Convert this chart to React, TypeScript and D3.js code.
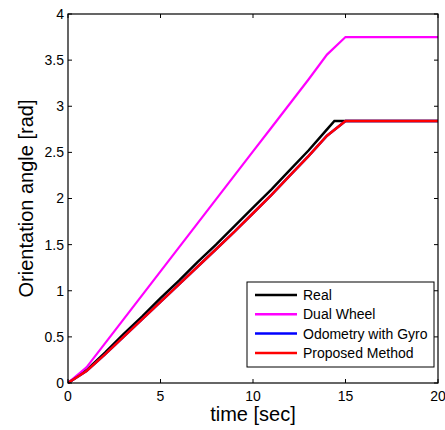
import React from "react";
import * as d3 from "d3";

const timeReal = [0, 1, 2, 3, 4, 5, 6, 7, 8, 9, 10, 11, 12, 13, 14, 14.4, 20];
const angleReal = [0, 0.14, 0.33, 0.53, 0.72, 0.92, 1.11, 1.31, 1.5, 1.7, 1.9, 2.1, 2.31, 2.52, 2.75, 2.84, 2.84];

const timeDual = [0, 1, 2, 3, 4, 5, 6, 7, 8, 9, 10, 11, 12, 13, 14, 15, 20];
const angleDual = [0, 0.17, 0.43, 0.69, 0.95, 1.21, 1.47, 1.73, 1.99, 2.25, 2.51, 2.77, 3.03, 3.29, 3.56, 3.75, 3.75];

const timeGyro = [0, 1, 2, 3, 4, 5, 6, 7, 8, 9, 10, 11, 12, 13, 14, 15, 20];
const angleGyro = [0, 0.13, 0.31, 0.5, 0.69, 0.88, 1.07, 1.26, 1.45, 1.64, 1.84, 2.04, 2.25, 2.46, 2.68, 2.84, 2.84];

const timeProposed = [0, 1, 2, 3, 4, 5, 6, 7, 8, 9, 10, 11, 12, 13, 14, 15, 20];
const angleProposed = [0, 0.13, 0.31, 0.5, 0.69, 0.88, 1.07, 1.26, 1.45, 1.64, 1.84, 2.04, 2.25, 2.46, 2.68, 2.84, 2.84];

const seriesNames = ["Real", "Dual Wheel", "Odometry with Gyro", "Proposed Method"];
const seriesColors = ["#000000", "#ff00ff", "#0000ff", "#ff0000"];
const xTicks = [0, 5, 10, 15, 20];
const yTicks = [0, 0.5, 1, 1.5, 2, 2.5, 3, 3.5, 4];

const FONT = "Helvetica, Arial, 'Liberation Sans', sans-serif";

export default function App() {
  const W = 445, H = 430;
  const left = 68, right = 438, top = 14, bottom = 383;
  const x = d3.scaleLinear().domain([0, 20]).range([left, right]);
  const y = d3.scaleLinear().domain([0, 4]).range([bottom, top]);
  const line = d3.line<[number, number]>().x(d => x(d[0])).y(d => y(d[1]));

  const series = [
    { t: timeReal, v: angleReal, w: 2.5 },
    { t: timeDual, v: angleDual, w: 2.2 },
    { t: timeGyro, v: angleGyro, w: 2.5 },
    { t: timeProposed, v: angleProposed, w: 2.5 },
  ];

  const tick = 4;
  const legX = 247, legY = 282, legW = 187, legH = 85;

  return (
    <svg width={W} height={H} style={{ position: "absolute", left: 0, top: 0, background: "#fff" }} fontFamily={FONT}>
      <rect x={0} y={0} width={W} height={H} fill="#fff" />
      <defs>
        <clipPath id="plotclip">
          <rect x={left} y={top - 2} width={right - left} height={bottom - top + 4} />
        </clipPath>
      </defs>
      {series.map((s, i) => (
        <path
          key={i}
          d={line(s.t.map((tt, j) => [tt, s.v[j]] as [number, number])) || ""}
          fill="none"
          stroke={seriesColors[i]}
          strokeWidth={s.w}
          strokeLinejoin="miter"
          clipPath="url(#plotclip)"
        />
      ))}
      <rect x={left} y={top} width={right - left} height={bottom - top} fill="none" stroke="#000" strokeWidth={1.2} />
      {xTicks.map(v => (
        <g key={"x" + v}>
          <line x1={x(v)} x2={x(v)} y1={bottom} y2={bottom - tick} stroke="#000" strokeWidth={1} />
          <line x1={x(v)} x2={x(v)} y1={top} y2={top + tick} stroke="#000" strokeWidth={1} />
          <text x={x(v)} y={401} fontSize={14} textAnchor="middle" fill="#000">{v}</text>
        </g>
      ))}
      {yTicks.map(v => (
        <g key={"y" + v}>
          <line x1={left} x2={left + tick} y1={y(v)} y2={y(v)} stroke="#000" strokeWidth={1} />
          <line x1={right} x2={right - tick} y1={y(v)} y2={y(v)} stroke="#000" strokeWidth={1} />
          <text x={64} y={y(v)} dy="0.35em" fontSize={14} textAnchor="end" fill="#000">{v}</text>
        </g>
      ))}
      <text x={(left + right) / 2} y={421} fontSize={20} textAnchor="middle" fill="#000">time [sec]</text>
      <text transform={`translate(32.5, ${(top + bottom) / 2}) rotate(-90)`} fontSize={20} textAnchor="middle" fill="#000">Orientation angle [rad]</text>
      <rect x={legX} y={legY} width={legW} height={legH} fill="#fff" stroke="#000" strokeWidth={1} />
      {seriesNames.map((n, i) => {
        const cy = 295 + i * 19.3;
        return (
          <g key={n}>
            <line x1={255} x2={297} y1={cy} y2={cy} stroke={seriesColors[i]} strokeWidth={2.5} />
            <text x={303} y={cy} dy="0.35em" fontSize={14} fill="#000">{n}</text>
          </g>
        );
      })}
    </svg>
  );
}
